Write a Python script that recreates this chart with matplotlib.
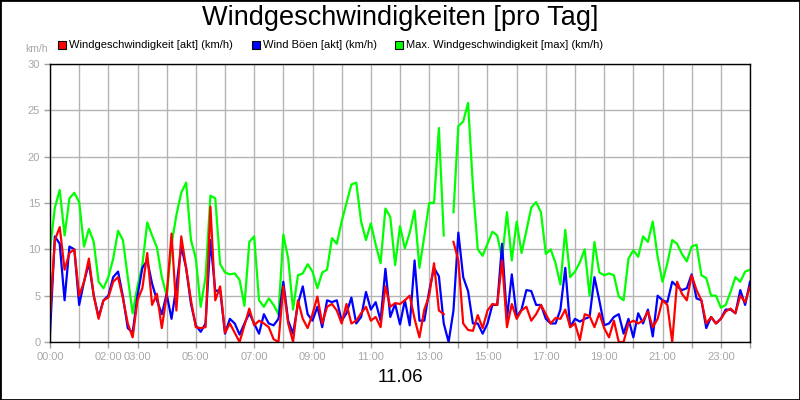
import numpy as np
import matplotlib.pyplot as plt
from matplotlib.patches import Rectangle

plt.rcParams['font.family'] = ['Liberation Sans', 'DejaVu Sans']

nan = np.nan

# 10-minute values, 00:00 .. 24:00 (km/h)
wind = [2.8, 11.0, 12.4, 7.8, 9.6, 10.0, 5.0, 6.5, 9.0, 5.0,
        2.5, 4.5, 4.8, 6.5, 7.0, 4.7, 2.0, 0.5, 4.5, 5.8,
        9.6, 4.0, 5.2, 1.5, 5.0, 11.7, 3.4, 11.4, 8.0, 4.5,
        1.6, 1.5, 1.6, 14.6, 4.5, 6.0, 1.0, 2.0, 1.0, 0.0,
        1.8, 3.6, 1.8, 2.3, 2.0, 1.6, 0.3, 0.0, 6.0, 2.0,
        0.0, 4.5, 2.5, 1.5, 3.0, 4.9, 2.0, 3.8, 4.1, 3.4,
        2.0, 4.1, 2.0, 2.3, 3.1, 3.8, 2.3, 2.7, 1.6, 6.0,
        3.8, 4.2, 4.1, 4.5, 5.0, 2.5, 0.5, 3.5, 5.0, 8.5,
        3.4, 3.0, nan, 10.8, 8.8, 2.0, 1.3, 1.2, 2.9, 1.5,
        3.4, 4.1, 4.0, 8.8, 1.6, 4.1, 2.5, 3.4, 3.8, 2.3,
        3.0, 4.0, 3.0, 2.0, 2.6, 2.5, 3.5, 1.6, 2.0, 0.2,
        3.0, 2.8, 1.6, 3.1, 1.5, 0.5, 2.3, 0.0, 0.0, 2.0,
        2.3, 2.0, 2.3, 3.3, 1.6, 2.5, 4.5, 4.0, 0.0, 6.5,
        5.2, 4.5, 7.2, 5.6, 4.5, 2.0, 2.7, 2.0, 2.5, 3.3,
        3.6, 3.1, 5.0, 4.3, 6.0]

gust = [0.9, 11.4, 10.6, 4.5, 10.3, 10.0, 4.0, 6.5, 8.5, 5.0,
        2.7, 4.5, 5.0, 7.0, 7.6, 4.9, 1.5, 1.0, 5.0, 8.0,
        8.8, 6.3, 4.5, 3.0, 5.2, 2.5, 6.0, 10.3, 8.0, 4.1,
        1.8, 1.1, 2.0, 11.0, 5.5, 5.6, 0.9, 2.5, 2.0, 0.8,
        2.0, 3.1, 2.0, 0.9, 3.0, 2.0, 1.8, 2.5, 6.5, 2.3,
        0.9, 4.1, 6.0, 3.0, 2.3, 3.8, 1.6, 4.5, 4.3, 4.5,
        2.3, 3.1, 4.8, 2.0, 2.7, 5.4, 3.5, 4.3, 2.3, 7.9,
        2.7, 4.1, 1.9, 4.5, 1.8, 8.8, 2.3, 2.3, 5.5, 8.0,
        7.1, 2.0, 0.0, 3.4, 11.8, 7.0, 5.5, 2.0, 2.0, 0.9,
        2.0, 4.0, 4.0, 10.6, 2.5, 7.3, 2.7, 3.5, 5.6, 5.5,
        4.0, 4.0, 2.5, 2.0, 2.0, 3.5, 8.0, 1.6, 2.5, 2.2,
        2.5, 2.7, 7.0, 4.5, 1.8, 2.0, 2.7, 3.0, 0.9, 2.5,
        0.5, 3.1, 2.0, 3.5, 0.6, 5.0, 4.5, 4.3, 6.5, 6.0,
        5.6, 5.8, 7.3, 4.7, 4.5, 1.5, 2.7, 2.0, 2.5, 3.5,
        3.5, 3.1, 5.6, 4.0, 6.5]

wind_max = [10.0, 14.5, 16.4, 11.5, 15.5, 16.1, 15.1, 10.3, 12.2, 10.8,
            6.5, 5.8, 7.0, 9.0, 12.0, 11.0, 7.0, 3.1, 6.0, 8.3,
            12.9, 11.5, 10.2, 7.0, 5.0, 10.5, 13.7, 16.1, 17.2, 11.0,
            9.0, 3.8, 7.0, 15.8, 15.5, 8.4, 7.5, 7.3, 7.4, 6.7,
            3.9, 10.8, 11.4, 4.5, 3.8, 4.7, 4.0, 3.0, 11.6, 9.0,
            3.5, 7.2, 7.4, 8.4, 7.6, 5.8, 7.5, 7.8, 11.2, 10.6,
            13.0, 15.0, 17.0, 17.2, 13.0, 11.0, 12.8, 10.5, 8.5, 14.4,
            13.5, 8.3, 12.5, 10.1, 11.8, 14.2, 8.0, 11.4, 15.0, 15.0,
            23.1, 11.5, nan, 14.0, 23.3, 23.8, 25.8, 16.8, 10.0, 9.3,
            10.6, 11.9, 11.5, 9.0, 14.0, 8.8, 13.0, 9.6, 12.0, 14.5,
            15.1, 14.0, 9.5, 10.0, 8.5, 6.2, 12.1, 7.0, 7.6, 8.6,
            10.0, 5.0, 10.8, 7.5, 7.2, 7.4, 7.2, 4.9, 4.5, 9.0,
            9.9, 9.2, 11.4, 10.8, 13.0, 9.2, 6.5, 8.5, 11.0, 10.6,
            9.5, 8.7, 10.3, 10.5, 7.2, 6.9, 5.0, 5.0, 3.7, 4.0,
            5.4, 7.0, 6.5, 7.6, 7.8]

tick_hours = [0, 2, 3, 5, 7, 9, 11, 13, 15, 17, 19, 21, 23]
series_names = ['Windgeschwindigkeit [akt] (km/h)', 'Wind Böen [akt] (km/h)',
                'Max. Windgeschwindigkeit [max] (km/h)']
series_colors = ['#ff0000', '#0000ff', '#00ff00']

hours = np.arange(len(wind)) / 6

fig = plt.figure(figsize=(8, 4), dpi=100)
W, H = 800, 400
ax = fig.add_axes([50 / W, 1 - 342 / H, 700 / W, 278 / H])

ax.plot(hours, wind_max, color='#00ff00', lw=1.6)
ax.plot(hours, gust, color='#0000ff', lw=1.6)
ax.plot(hours, wind, color='#ff0000', lw=1.6)

ax.set_xlim(0, 24)
ax.set_ylim(0, 30)
ax.set_yticks(range(0, 31, 5))
ax.set_xticks(range(0, 25))
ax.set_xticklabels(['%02d:00' % h if h in tick_hours else '' for h in range(25)])
ax.grid(color='#b4b4b4', lw=1)
ax.set_axisbelow(True)
ax.tick_params(color='#a0a0a0', labelcolor='#a8a8a8', length=4, width=1, labelsize=8, pad=3)
for s in ax.spines.values():
    s.set_color('black')
    s.set_linewidth(1)

fig.text(0.5, 1 - 18 / H, 'Windgeschwindigkeiten [pro Tag]', ha='center', va='center', fontsize=19.5)
fig.text(0.5, 1 - 378 / H, '11.06', ha='center', va='center', fontsize=13.5)
fig.text(37 / W, 1 - 49 / H, 'km/h', ha='center', va='center', fontsize=7.5, color='#a8a8a8')

# legend
for lx, name, col in zip([58, 252, 395], series_names, series_colors):
    fig.add_artist(Rectangle((lx / W, 1 - 49 / H), 8 / W, 8 / H, transform=fig.transFigure,
                             facecolor=col, edgecolor='black', lw=0.8))
    fig.text((lx + 11) / W, 1 - 45 / H, name, ha='left', va='center', fontsize=8)

fig.add_artist(Rectangle((0, 0), 1, 1, transform=fig.transFigure, fill=False,
                         edgecolor='black', lw=2))

fig.savefig('out.png', dpi=100)
